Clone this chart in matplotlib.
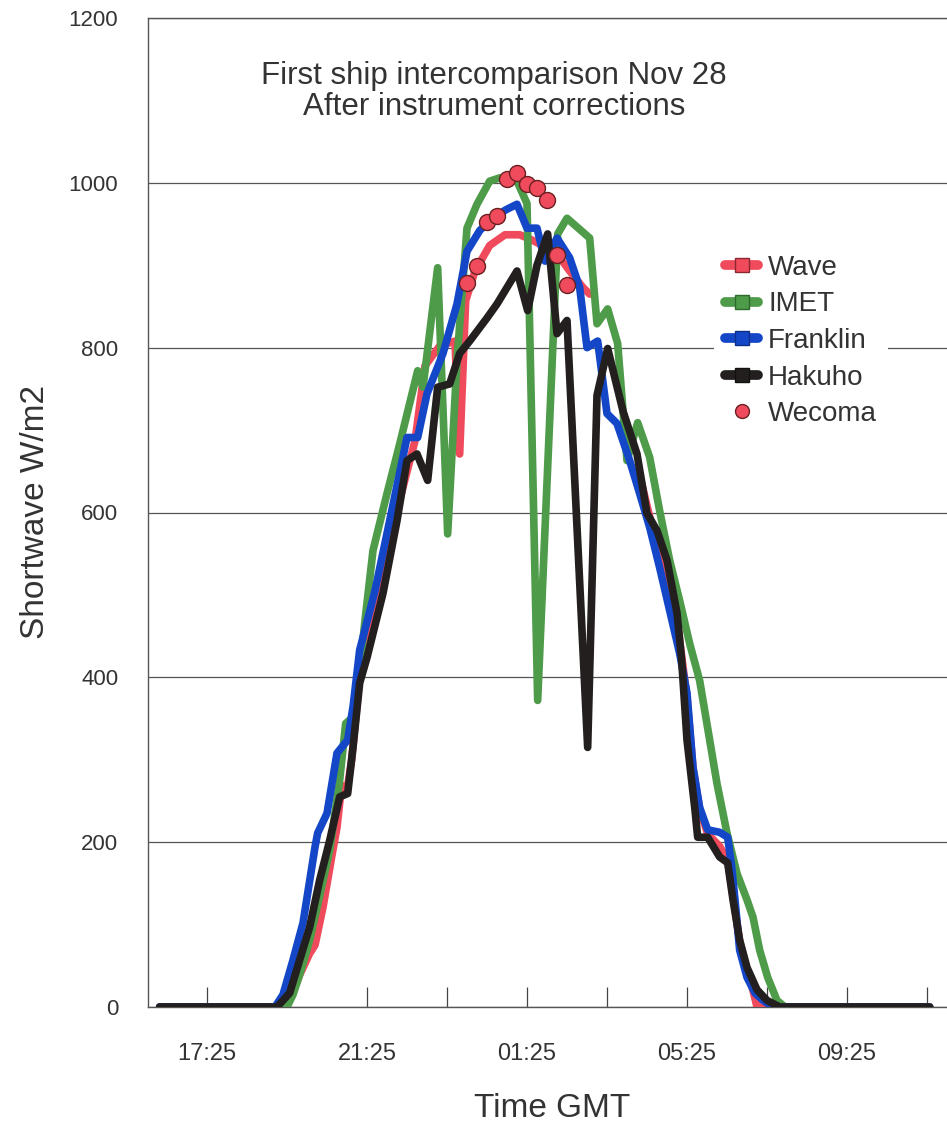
import matplotlib
matplotlib.use("Agg")
import matplotlib.pyplot as plt
from matplotlib.lines import Line2D
import numpy as np

plt.rcParams['font.family'] = ['Liberation Sans', 'DejaVu Sans']

# Shortwave readings (W/m2); times GMT, Nov 27 -> 28
wave_time = ["16:14", "19:14", "19:32", "19:44", "19:59", "20:07", "20:19", "20:32", "20:40",
             "20:47", "20:55", "21:02", "21:14", "21:44", "22:14", "22:37", "22:52", "23:14",
             "23:37", "23:44", "23:53", "00:07", "00:29", "00:52", "01:14", "01:34", "01:55",
             "02:10", "02:29", "02:49", "02:59", "03:30", "04:14", "04:44", "05:10", "05:25",
             "05:34", "05:44", "05:56", "06:14", "06:26", "06:34", "06:44", "06:55", "07:04",
             "07:10", "11:29"]
wave_vals = [0, 0, 15, 39, 65, 75, 121, 182, 218,
             269, 263, 300, 400, 505, 615, 687, 778, 802,
             808, 671, 857, 893, 924, 937, 937, 930, 921,
             914, 893, 873, 865, None, 645, 545, 470, 375,
             290, 240, 210, 195, 178, 135, 80, 45, 20,
             0, 0]

imet_time = ["16:14", "19:25", "19:34", "19:44", "19:59", "20:14", "20:29", "20:44", "20:53",
             "21:07", "21:22", "21:34", "21:55", "22:14", "22:41", "22:49", "23:11", "23:26",
             "23:40", "23:55", "00:10", "00:29", "00:44", "01:10", "01:25", "01:41", "02:11",
             "02:25", "02:59", "03:10", "03:26", "03:41", "03:55", "04:11", "04:29", "04:44",
             "04:59", "05:14", "05:29", "05:44", "05:59", "06:10", "06:25", "06:40", "06:55",
             "07:04", "07:14", "07:26", "07:40", "07:52", "11:29"]
imet_vals = [0, 0, 15, 39, 81, 135, 190, 275, 344,
             354, 469, 554, 623, 683, 772, 752, 897, 574,
             784, 945, 974, 1002, 1006, 1002, 975, 372, 938,
             957, 933, 829, 847, 805, 663, 709, 667, 602,
             542, 493, 441, 396, 324, 271, 211, 162, 130,
             109, 69, 36, 8, 0, 0]

franklin_time = ["16:14", "19:07", "19:19", "19:34", "19:49", "20:07", "20:11", "20:25", "20:40",
                 "20:56", "21:04", "21:14", "21:37", "21:59", "22:25", "22:41", "22:55", "23:19",
                 "23:40", "23:55", "00:14", "00:34", "00:55", "01:10", "01:25", "01:40", "01:52",
                 "02:10", "02:29", "02:44", "02:55", "03:11", "03:25", "03:40", "03:59", "04:14",
                 "04:29", "04:44", "04:59", "05:14", "05:25", "05:34", "05:44", "05:56", "06:14",
                 "06:26", "06:32", "06:37", "06:44", "06:55", "07:07", "07:19", "07:34", "11:29"]
franklin_vals = [0, 0, 15, 57, 102, 194, 211, 235, 308,
                 324, 364, 433, 505, 590, 691, 691, 744, 793,
                 853, 917, 942, 958, 968, 974, 945, 945, 905,
                 933, 909, 873, 800, 808, 720, 708, 663, 623,
                 582, 533, 481, 429, 381, 291, 242, 215, 212,
                 206, 170, 130, 69, 36, 17, 8, 0, 0]

hakuho_time = ["16:14", "19:10", "19:29", "19:44", "19:59", "20:14", "20:29", "20:44", "20:56",
               "21:04", "21:14", "21:25", "21:49", "22:10", "22:25", "22:40", "22:56", "23:11",
               "23:29", "23:44", "23:59", "00:25", "00:40", "00:55", "01:10", "01:26", "01:40",
               "01:56", "02:10", "02:25", "02:56", "03:10", "03:26", "03:49", "04:10", "04:25",
               "04:40", "04:55", "05:10", "05:17", "05:25", "05:37", "05:41", "05:56", "06:14",
               "06:26", "06:34", "06:44", "06:55", "07:10", "07:25", "07:44", "11:29"]
hakuho_vals = [0, 0, 17, 57, 97, 154, 202, 255, 259,
               315, 393, 424, 502, 590, 663, 671, 639, 752,
               756, 793, 808, 836, 853, 873, 893, 845, 900,
               938, 817, 833, 315, 742, 799, 723, 671, 599,
               578, 542, 478, 421, 324, 239, 206, 206, 182,
               175, 130, 81, 48, 21, 8, 0, 0]

wecoma_time = ["23:55", "00:10", "00:25", "00:40", "00:55", "01:10", "01:25", "01:40",
               "01:55", "02:10", "02:25"]
wecoma_vals = [879, 899, 952, 960, 1005, 1012, 999, 994, 979, 913, 876]

major_ticks = ["17:25", "21:25", "01:25", "05:25", "09:25"]
minor_ticks = ["19:25", "23:25", "03:25", "07:25", "11:25"]


def hours(t):
    h, m = map(int, t.split(":"))
    return h + m / 60 + (24 if h < 12 else 0)


def xy(times, vals):
    x = np.array([hours(t) for t in times])
    y = np.array([np.nan if v is None else v for v in vals], dtype=float)
    return x, y


RED = "#f04b5c"
GREEN = "#4e9b4a"
BLUE = "#1447c8"
BLACK = "#231f1f"
TXT = "#333333"

fig = plt.figure(figsize=(9.47, 11.22), dpi=100)
ax = fig.add_axes([148 / 947, 1 - 1007 / 1122, 1 - 148 / 947, (1007 - 18) / 1122])

line_kw = dict(lw=5.5, solid_capstyle="round", solid_joinstyle="round")
ax.plot(*xy(wave_time, wave_vals), color=RED, zorder=3, **line_kw)
ax.plot(*xy(imet_time, imet_vals), color=GREEN, zorder=4, **line_kw)
ax.plot(*xy(franklin_time, franklin_vals), color=BLUE, zorder=5, **line_kw)
ax.plot(*xy(hakuho_time, hakuho_vals), color=BLACK, zorder=6, **line_kw)
ax.plot(*xy(wecoma_time, wecoma_vals), ls="none", marker="o", ms=11.5,
        mfc=RED, mec="#6a2020", mew=1, zorder=7)

ax.set_xlim(hours("17:25") - 1.475, hours("17:25") + 18.5)
ax.set_ylim(0, 1200)
ax.set_yticks(range(0, 1201, 200))
ax.grid(axis="y", color="#555555", lw=0.9)
ax.set_axisbelow(True)

ax.set_xticks([hours(t) for t in major_ticks], major_ticks)
ax.set_xticks([hours(t) for t in minor_ticks], minor=True)
ax.tick_params(axis="x", which="both", direction="in", length=14.5, width=0.9,
               color="#444444", pad=26, labelsize=17, labelcolor=TXT)
ax.tick_params(axis="y", length=0, pad=21.5, labelsize=16, labelcolor=TXT)

for side in ("left", "top", "bottom"):
    ax.spines[side].set_color("#555555")
    ax.spines[side].set_linewidth(1)
ax.spines["right"].set_visible(False)

fig.text(494 / 947, 1 - 84 / 1122, "First ship intercomparison Nov 28",
         ha="center", va="baseline", fontsize=22.5, color=TXT)
fig.text(494 / 947, 1 - 115 / 1122, "After instrument corrections",
         ha="center", va="baseline", fontsize=22.5, color=TXT)
fig.text(35 / 947, 1 - 512 / 1122, "Shortwave W/m2", rotation=90,
         ha="center", va="center", fontsize=24, color=TXT)
fig.text(552 / 947, 1 - 1117 / 1122, "Time GMT",
         ha="center", va="baseline", fontsize=24, color=TXT)

handles = [
    Line2D([], [], color=RED, lw=7, marker="s", ms=10, mec="#8a2a30", solid_capstyle="round"),
    Line2D([], [], color=GREEN, lw=7, marker="s", ms=10, mec="#2e6a2c", solid_capstyle="round"),
    Line2D([], [], color=BLUE, lw=7, marker="s", ms=10, mec="#0d2f88", solid_capstyle="round"),
    Line2D([], [], color=BLACK, lw=7, marker="s", ms=10, mec="#111111", solid_capstyle="round"),
    Line2D([], [], ls="none", marker="o", ms=10, mfc=RED, mec="#6a2020"),
]
labels = ["Wave", "IMET", "Franklin", "Hakuho", "Wecoma"]
leg = ax.legend(handles, labels, loc="center left",
                bbox_to_anchor=((714 - 148) / 799, (1007 - 341) / 989),
                frameon=True, facecolor="white", edgecolor="none", framealpha=1,
                fontsize=20, handlelength=1.2, handletextpad=0.35, labelspacing=0.38,
                borderpad=0.4, borderaxespad=0)
for t in leg.get_texts():
    t.set_color(TXT)

fig.savefig("out.png", dpi=100)
